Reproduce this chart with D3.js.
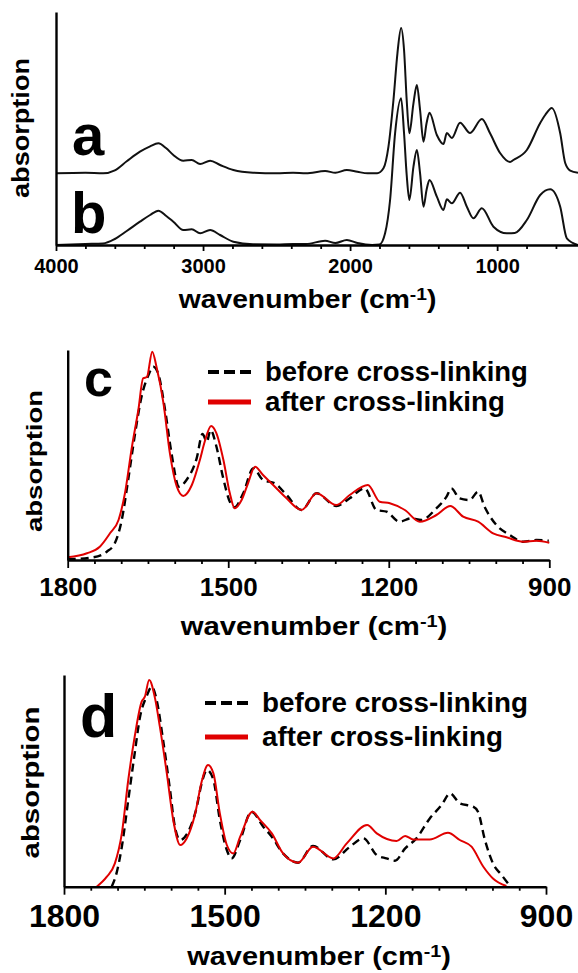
<!DOCTYPE html>
<html>
<head>
<meta charset="utf-8">
<script src="https://cdn.jsdelivr.net/npm/d3@7"></script>
<style>
  body { margin: 0; background: #fff; }
  svg { display: block; font-family: "Liberation Sans", Arial, sans-serif; font-weight: bold; }
</style>
</head>
<body>
<div id="chart"></div>
<script>
// ----- data (wavenumber, absorption in a.u.) -----
const topA = [[4000,0],[3800,0.5],[3680,0],[3600,3],[3519,12],[3429,21.6],[3360,27],[3304,30],[3250,25],[3202,18.3],[3134,12.6],[3077,13.3],[3020,9.3],[2952,12.6],[2884,8.3],[2794,3.3],[2660,0.6],[2500,0],[2388,0.5],[2300,0],[2170,2.3],[2100,0.5],[2022,3.3],[1950,1.5],[1880,0],[1816,0],[1773,5],[1739,26.7],[1705,73.3],[1678,120],[1653,145.3],[1633,123.3],[1615,73.3],[1597,40],[1569,70],[1546,88.3],[1524,63.3],[1501,31.6],[1480,50],[1460,60.6],[1410,38.3],[1365,29.3],[1342,40.3],[1308,35.3],[1252,50.6],[1184,40.3],[1104,54.3],[1048,40],[980,20.3],[912,11.3],[889,13.3],[798,23.3],[707,50.3],[673,58.3],[628,65.3],[571,40],[537,10.3],[503,2.7],[450,0.5]];
const topB = [[4000,0],[3800,1],[3680,1.5],[3600,6],[3519,14],[3429,23.3],[3360,30],[3304,34.3],[3250,29],[3202,23.3],[3134,15],[3077,15.7],[3020,11.7],[2952,15],[2884,10],[2794,3.3],[2660,0.7],[2500,0.5],[2388,1],[2300,1],[2170,4.3],[2100,2],[2022,5],[1950,2],[1850,0],[1800,0.5],[1762,11.7],[1728,45],[1694,111.7],[1653,146.7],[1633,111.7],[1615,70],[1597,45],[1569,78.3],[1546,95],[1524,71.7],[1501,38.3],[1480,55],[1460,65],[1410,48.3],[1365,35],[1342,45.7],[1308,41.7],[1252,52.3],[1206,38.3],[1161,26.7],[1104,36.7],[1025,18.3],[934,11.7],[880,12],[798,25],[707,50],[639,55.7],[571,38.3],[526,6.7],[450,0]];
const cBefore = [[1800,0.7],[1752,2.7],[1727,8.3],[1712,16.7],[1699,40],[1687,80],[1674,126.7],[1662,163.3],[1649,185],[1640,193.3],[1631,186.7],[1618,150],[1606,106.7],[1592,73.3],[1578,80],[1559,101.7],[1548,126],[1540,118.3],[1533,130],[1522,113.3],[1510,83.3],[1497,58.3],[1488,52.7],[1472,66.7],[1453,91.7],[1435,80],[1413,76.7],[1391,65],[1363,50],[1335,66.7],[1298,54],[1273,61.7],[1245,71.7],[1223,50],[1204,48.3],[1180,38.3],[1158,41.7],[1139,40],[1111,51.7],[1092,63.3],[1083,71.7],[1068,61.7],[1049,60],[1033,68.3],[1021,53.3],[999,35],[974,25],[949,18.3],[924,20],[901,19.3]];
const cAfter = [[1800,2.7],[1764,6.7],[1740,13.3],[1721,26.7],[1705,40],[1693,66.7],[1680,113],[1668,150],[1659,181.7],[1652,183],[1642,208.3],[1634,193],[1621,156.7],[1609,106.7],[1596,73.3],[1584,64],[1568,75],[1553,100],[1544,118.3],[1532,134],[1522,126.7],[1509,100],[1497,66.7],[1488,51.7],[1475,60],[1463,76.7],[1450,93.3],[1435,85],[1416,75],[1391,61.7],[1363,50],[1335,66.7],[1298,55],[1273,65],[1239,75],[1217,58.3],[1198,56.7],[1170,50],[1142,38.3],[1111,45],[1085,54],[1061,43.3],[1033,38.3],[1005,26.7],[980,22.7],[949,18.3],[924,19.3],[900,17.3]];
const dBefore = [[1711,0],[1702,13.3],[1692,40],[1680,86.7],[1668,133.3],[1658,170],[1646,190],[1636,200],[1627,186.7],[1615,146.7],[1602,96.7],[1593,60],[1583,46.7],[1568,55],[1552,80],[1543,103.3],[1533,116.7],[1521,106.7],[1509,66.7],[1496,36.7],[1487,28.3],[1471,46.7],[1450,75],[1428,60],[1412,50],[1391,33.3],[1363,24],[1335,40.7],[1297,27.3],[1266,40],[1241,48.3],[1216,31.7],[1198,28.3],[1182,26],[1163,38.3],[1142,48.3],[1117,68.3],[1095,81.7],[1079,93.3],[1061,83.3],[1036,80],[1027,75],[1014,46.7],[999,23.3],[983,11.7],[967,0.7]];
const dAfter = [[1739,0],[1720,10],[1705,23.3],[1692,53.3],[1680,106.7],[1668,150],[1655,185],[1649,190],[1641,206.7],[1630,188.3],[1621,160],[1608,113.3],[1596,66.7],[1583,41.7],[1571,48.3],[1555,73.3],[1543,105],[1531,121.7],[1521,113.3],[1509,73.3],[1496,41.7],[1484,33.3],[1471,50],[1448,75],[1434,66.7],[1412,53.3],[1391,33.3],[1363,24],[1335,40],[1297,28.3],[1272,43.3],[1234,61.7],[1216,53.3],[1179,45.7],[1163,50.7],[1148,47.3],[1117,47.3],[1083,54],[1061,46.7],[1039,40],[1017,20],[999,8.3],[974,0.7]];

const topMajor = [4000, 3000, 2000, 1000];
const zoomMajor = [1800, 1500, 1200, 900];
const legendLabels = ["before cross-linking", "after cross-linking"];

const width = 578, height = 973;
const svg = d3.select("#chart").append("svg")
    .attr("width", width)
    .attr("height", height);

// stretch text horizontally to a target width (the original font is wide)
function fit(text, w, x, y, rot) {
    const bw = text.node().getBBox().width;
    const k = w / bw;
    text.attr("transform", `translate(${x},${y})${rot ? " rotate(-90)" : ""} scale(${k},1)`);
}

function title(cx, y, fs, w) {
    const t = svg.append("text")
        .attr("text-anchor", "middle")
        .style("font-size", fs + "px");
    t.append("tspan").text("wavenumber (cm");
    t.append("tspan").text("-1").style("font-size", "0.68em").attr("dy", "-0.5em");
    t.append("tspan").text(")").attr("dy", "0.34em");
    fit(t, w, cx, y, false);
}

function ylabel(x, cy, fs, len) {
    const t = svg.append("text")
        .attr("text-anchor", "middle")
        .style("font-size", fs + "px")
        .text("absorption");
    fit(t, len, x, cy, true);
}

function axes(x, y, majors, minors, majorLen, minorLen, fs, labelDy) {
    const x0 = x.range()[0], y0 = y.range()[0];
    svg.append("g")
        .attr("transform", `translate(0,${y0})`)
        .call(d3.axisBottom(x).tickValues(minors).tickFormat("").tickSize(minorLen).tickSizeOuter(0))
        .call(g => g.select(".domain").remove())
        .selectAll("line").attr("stroke", "#000").attr("stroke-width", 1.8);
    const gx = svg.append("g")
        .attr("transform", `translate(0,${y0})`)
        .call(d3.axisBottom(x).tickValues(majors).tickFormat(d3.format("d"))
            .tickSize(majorLen).tickSizeOuter(0).tickPadding(labelDy));
    gx.select(".domain").attr("stroke", "#000").attr("stroke-width", 2.4);
    gx.selectAll("line").attr("stroke", "#000").attr("stroke-width", 1.8);
    gx.selectAll("text")
        .style("font-size", fs + "px")
        .style("font-weight", "bold")
        .style("font-family", "'Liberation Sans', Arial, sans-serif")
        .attr("fill", "#000");
    svg.append("g")
        .attr("transform", `translate(${x0},0)`)
        .call(d3.axisLeft(y).tickValues([]).tickSizeOuter(0))
        .select(".domain").attr("stroke", "#000").attr("stroke-width", 2.4);
}

function range(a, b, step) {
    const out = [];
    for (let v = a; v >= b; v -= step) out.push(v);
    return out;
}

// ----- panel a/b -----
const xTop = d3.scaleLinear().domain([4000, 450]).range([56, 578]);
const yTop = d3.scaleLinear().domain([0, 233]).range([245, 12]);
const offsetA = 71.7;

const lineTop = off => d3.line()
    .x(d => xTop(d[0]))
    .y(d => yTop(d[1] + off))
    .curve(d3.curveMonotoneX);

svg.append("path").datum(topB).attr("d", lineTop(0))
    .attr("fill", "none").attr("stroke", "#111").attr("stroke-width", 2);
svg.append("path").datum(topA).attr("d", lineTop(offsetA))
    .attr("fill", "none").attr("stroke", "#111").attr("stroke-width", 2);

axes(xTop, yTop, topMajor, range(4000, 450, 200).filter(v => v % 1000), 6, 4, 20, 8);

svg.append("text").attr("x", 72).attr("y", 155).style("font-size", "58px").text("a");
svg.append("text").attr("x", 71).attr("y", 233).style("font-size", "58px").text("b");
ylabel(29, 128, 23, 140);
title(307.5, 308, 25, 259);

// ----- zoomed panels -----
function zoomPanel(cfg) {
    const x = d3.scaleLinear().domain([1800, 900]).range([cfg.x0, cfg.x1]);
    const y = d3.scaleLinear().domain([0, cfg.ymax]).range([cfg.yb, cfg.yt]);
    const line = d3.line().x(d => x(d[0])).y(d => y(d[1])).curve(d3.curveMonotoneX);

    svg.append("path").datum(cfg.before).attr("d", line)
        .attr("fill", "none").attr("stroke", "#000").attr("stroke-width", 2.4)
        .attr("stroke-dasharray", "8,5");
    svg.append("path").datum(cfg.after).attr("d", line)
        .attr("fill", "none").attr("stroke", "#e00000").attr("stroke-width", 2);

    axes(x, y, zoomMajor, range(1800, 900, 50).filter(v => v % 300), 8, 4, cfg.tickFs, cfg.tickPad);

    svg.append("text").attr("x", cfg.lx).attr("y", cfg.ly)
        .style("font-size", cfg.lfs + "px").text(cfg.letter);

    // legend
    const lg = svg.append("g");
    lg.append("line").attr("x1", cfg.legX).attr("x2", cfg.legX + 43)
        .attr("y1", cfg.legY).attr("y2", cfg.legY)
        .attr("stroke", "#000").attr("stroke-width", 4).attr("stroke-dasharray", "11,5");
    lg.append("line").attr("x1", cfg.legX).attr("x2", cfg.legX + 43)
        .attr("y1", cfg.legY2).attr("y2", cfg.legY2)
        .attr("stroke", "#e00000").attr("stroke-width", 5);
    legendLabels.forEach((lab, i) => {
        const t = lg.append("text").style("font-size", "27px").text(lab);
        const bw = t.node().getBBox().width;
        const k = cfg.legW[i] / bw;
        t.attr("transform", `translate(${cfg.legTx},${i ? cfg.legY2 + 9 : cfg.legY + 9}) scale(${k},1)`);
    });

    ylabel(cfg.ylx, cfg.ylcy, cfg.ylfs, cfg.yllen);
    title(cfg.tcx, cfg.ty, 25, cfg.tw);
}

zoomPanel({
    before: cBefore, after: cAfter,
    x0: 67.7, x1: 549.3, yb: 560, yt: 350, ymax: 210,
    tickFs: 26, tickPad: 10,
    letter: "c", lx: 84, ly: 396, lfs: 52,
    legX: 208, legY: 372, legY2: 402, legTx: 265, legW: [263, 240],
    ylx: 42, ylcy: 461, ylfs: 23, yllen: 142,
    tcx: 314, ty: 635, tw: 268
});

zoomPanel({
    before: dBefore, after: dAfter,
    x0: 64, x1: 546, yb: 886.7, yt: 675, ymax: 211.7,
    tickFs: 32, tickPad: 10,
    letter: "d", lx: 80, ly: 737, lfs: 61,
    legX: 205, legY: 703, legY2: 737, legTx: 262, legW: [266, 241],
    ylx: 39, ylcy: 782.5, ylfs: 24, yllen: 152,
    tcx: 319, ty: 965, tw: 265
});
</script>
</body>
</html>
